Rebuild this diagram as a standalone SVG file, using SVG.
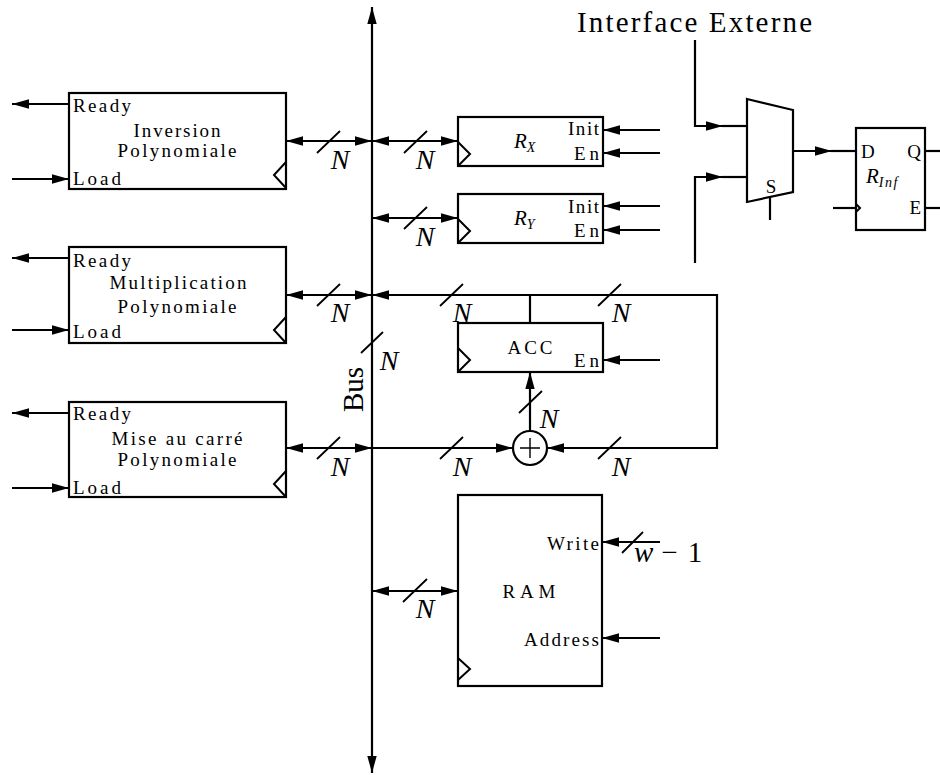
<svg xmlns="http://www.w3.org/2000/svg" width="940" height="776" viewBox="0 0 940 776">
<defs>
<marker id="ah" markerUnits="userSpaceOnUse" markerWidth="18" markerHeight="10" refX="17" refY="5" orient="auto-start-reverse" viewBox="0 0 18 10" overflow="visible"><path d="M0,0.3 L17,5 L0,9.7 z" fill="#000"/></marker>
<style>
.w{fill:none;stroke:#000;stroke-width:2.2}
.a{fill:none;stroke:#000;stroke-width:2.2;marker-end:url(#ah)}
.b{fill:none;stroke:#000;stroke-width:2.2;marker-end:url(#ah);marker-start:url(#ah)}
.box{fill:#fff;stroke:#000;stroke-width:2.2}
.ck{fill:none;stroke:#000;stroke-width:2}
.s{fill:none;stroke:#000;stroke-width:1.8}
.t{font-family:"Liberation Serif",serif;font-size:19px;fill:#000}
.m{text-anchor:middle}
.e{text-anchor:end}
.n{font-family:"Liberation Serif",serif;font-style:italic;font-size:28px;fill:#000;text-anchor:middle}
.big{font-family:"Liberation Serif",serif;font-size:29px;fill:#000}
</style>
</defs>

<g id="connectors">
<path class="b" d="M372,773 V7"/>
<path class="a" d="M69,104 H12"/>
<path class="a" d="M12,179 H69"/>
<path class="a" d="M69,258 H12"/>
<path class="a" d="M12,330 H69"/>
<path class="a" d="M69,413 H12"/>
<path class="a" d="M12,488 H69"/>
<path class="b" d="M286,141 H372"/>
<path class="b" d="M372,141 H458"/>
<path class="b" d="M372,218 H458"/>
<path class="b" d="M286,295 H372"/>
<path class="b" d="M286,448 H372"/>
<path class="b" d="M372,591 H458"/>
<path class="w" d="M530,323 V295"/>
<path class="a" d="M530,295 H717 V448 H547"/>
<path class="a" d="M530,295 H372"/>
<path class="a" d="M372,448 H513"/>
<path class="a" d="M530,431 V372"/>
<path class="a" d="M660,130 H603"/>
<path class="a" d="M660,153 H603"/>
<path class="a" d="M660,206 H603"/>
<path class="a" d="M660,230 H603"/>
<path class="a" d="M660,360 H603"/>
<path class="a" d="M660,542 H602"/>
<path class="a" d="M660,638 H602"/>
<path class="a" d="M695,40 V126 H723"/>
<path class="w" d="M722,126 H747"/>
<path class="a" d="M695,263 V177 H723"/>
<path class="w" d="M722,177 H747"/>
<path class="a" d="M793,151 H832"/>
<path class="w" d="M831,151 H856"/>
<path class="w" d="M770,197 V220"/>
<path class="w" d="M925,151 H940"/>
<path class="w" d="M925,208 H940"/>
<path class="w" d="M833,208 H856"/>
<path class="s" d="M317,153 L340,131 M404,153 L427,131 M404,229 L427,207 M317,306 L340,284 M440,306 L463,284 M598,306 L621,284 M361,353 L383,332 M519,413 L542,391 M317,459 L340,437 M440,459 L463,437 M598,459 L621,437 M403,602 L427,579 M622,553 L643,532"/>
<text class="n" x="340" y="169">N</text>
<text class="n" x="425" y="169">N</text>
<text class="n" x="425" y="246">N</text>
<text class="n" x="340" y="322">N</text>
<text class="n" x="462" y="322">N</text>
<text class="n" x="621" y="322">N</text>
<text class="n" x="389" y="370">N</text>
<text class="n" x="549" y="428">N</text>
<text class="n" x="340" y="476">N</text>
<text class="n" x="462" y="476">N</text>
<text class="n" x="621" y="476">N</text>
<text class="n" x="425" y="618">N</text>
<text x="634" y="562" style="font-family:'Liberation Serif',serif;font-size:29px"><tspan font-style="italic">w</tspan><tspan dx="8">−</tspan><tspan dx="10">1</tspan></text>
<text class="big" transform="translate(363,389.5) rotate(-90)" text-anchor="middle">Bus</text>
</g>

<g id="inversion">
<rect class="box" x="69" y="93" width="217" height="96"/>
<path class="ck" d="M286,162 L274,175 L286,188"/>
<text class="t" x="73" y="112" textLength="58" lengthAdjust="spacing">Ready</text>
<text class="t m" x="177" y="137" textLength="87" lengthAdjust="spacing">Inversion</text>
<text class="t m" x="177" y="157" textLength="119" lengthAdjust="spacing">Polynomiale</text>
<text class="t" x="73" y="185" textLength="48" lengthAdjust="spacing">Load</text>
</g>

<g id="multiplication">
<rect class="box" x="69" y="247" width="217" height="96"/>
<path class="ck" d="M286,317 L274,330 L286,343"/>
<text class="t" x="73" y="267" textLength="58" lengthAdjust="spacing">Ready</text>
<text class="t m" x="178" y="289" textLength="137" lengthAdjust="spacing">Multiplication</text>
<text class="t m" x="177" y="313" textLength="119" lengthAdjust="spacing">Polynomiale</text>
<text class="t" x="73" y="338" textLength="48" lengthAdjust="spacing">Load</text>
</g>

<g id="carre">
<rect class="box" x="69" y="402" width="217" height="95"/>
<path class="ck" d="M286,471 L274,484 L286,497"/>
<text class="t" x="73" y="420" textLength="58" lengthAdjust="spacing">Ready</text>
<text class="t m" x="177" y="445" textLength="131" lengthAdjust="spacing">Mise au carré</text>
<text class="t m" x="177" y="466" textLength="119" lengthAdjust="spacing">Polynomiale</text>
<text class="t" x="73" y="494" textLength="48" lengthAdjust="spacing">Load</text>
</g>

<g id="rx">
<rect class="box" x="458" y="117" width="145" height="49"/>
<path class="ck" d="M458,142 L470,154 L458,166"/>
<text x="514" y="148" style="font-family:'Liberation Serif',serif;font-size:21px;font-style:italic">R<tspan font-size="14" dy="4">X</tspan></text>
<text class="t e" x="599" y="135" textLength="31" lengthAdjust="spacing">Init</text>
<text class="t e" x="599" y="160" textLength="25" lengthAdjust="spacing">En</text>
</g>

<g id="ry">
<rect class="box" x="458" y="194" width="145" height="49"/>
<path class="ck" d="M458,219 L470,231 L458,243"/>
<text x="514" y="225" style="font-family:'Liberation Serif',serif;font-size:21px;font-style:italic">R<tspan font-size="14" dy="4">Y</tspan></text>
<text class="t e" x="599" y="213" textLength="31" lengthAdjust="spacing">Init</text>
<text class="t e" x="599" y="237" textLength="25" lengthAdjust="spacing">En</text>
</g>

<g id="acc">
<rect class="box" x="458" y="323" width="145" height="49"/>
<path class="ck" d="M458,348 L470,360 L458,372"/>
<text class="t m" x="530" y="354" textLength="45" lengthAdjust="spacing">ACC</text>
<text class="t e" x="599" y="367" textLength="25" lengthAdjust="spacing">En</text>
</g>

<g id="adder">
<circle cx="530" cy="448" r="17" fill="#fff" stroke="#000" stroke-width="2.2"/>
<path d="M520,448 H540 M530,438 V458" stroke="#000" stroke-width="1.4"/>
</g>

<g id="ram">
<rect class="box" x="458" y="495" width="144" height="191"/>
<path class="ck" d="M458,658 L470,669 L458,680"/>
<text class="t m" x="529" y="598" textLength="53" lengthAdjust="spacing">RAM</text>
<text class="t e" x="599" y="550" textLength="52" lengthAdjust="spacing">Write</text>
<text class="t e" x="599" y="646" textLength="75" lengthAdjust="spacing">Address</text>
</g>

<g id="mux">
<path class="box" d="M747,99 L793,110 L793,192 L747,202 Z"/>
<text class="t m" x="771" y="193">S</text>
</g>

<g id="rinf">
<rect class="box" x="856" y="128" width="69" height="102"/>
<path class="ck" d="M856,204 L860,208 L856,212"/>
<text class="t" x="861" y="158">D</text>
<text class="t e" x="921" y="158">Q</text>
<text class="t e" x="921" y="214">E</text>
<text x="866" y="183" style="font-family:'Liberation Serif',serif;font-size:21px;font-style:italic">R<tspan font-size="14" dy="4" letter-spacing="1.5">Inf</tspan></text>
</g>

<g id="interface">
<text class="big" x="577" y="32" textLength="235" lengthAdjust="spacing">Interface Externe</text>
</g>
</svg>
